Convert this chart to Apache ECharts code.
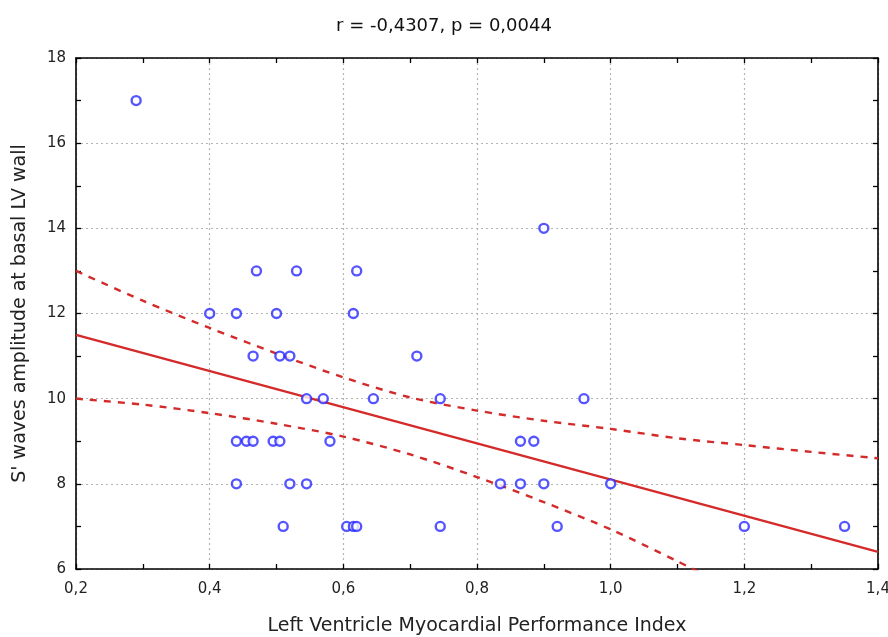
<!DOCTYPE html>
<html>
<head>
<meta charset="utf-8">
<script src="https://cdn.jsdelivr.net/npm/echarts@6/dist/echarts.min.js"></script>
<style>
html,body{margin:0;padding:0;background:#fff;}
#chart{width:888px;height:637px;}
</style>
</head>
<body>
<div id="chart"></div>
<script>
// Scatter data: Left Ventricle MPI (x) vs S' wave amplitude (y)
const mpiValues = [0.29,
  0.40,0.44,0.50,0.615,
  0.47,0.53,0.62,
  0.90,
  0.465,0.505,0.52,0.71,
  0.545,0.57,0.645,0.745,0.96,
  0.44,0.455,0.465,0.495,0.505,0.58,0.865,0.885,
  0.44,0.52,0.545,0.835,0.865,0.90,1.0,
  0.51,0.605,0.615,0.62,0.745,0.92,1.20,1.35];
const sWaveValues = [17,
  12,12,12,12,
  13,13,13,
  14,
  11,11,11,11,
  10,10,10,10,10,
  9,9,9,9,9,9,9,9,
  8,8,8,8,8,8,8,
  7,7,7,7,7,7,7,7];

// Regression line endpoints
const fitX = [0.2, 1.4];
const fitY = [11.50, 6.40];

// 95% confidence band
const bandX = [0.2,0.3,0.4,0.5,0.6,0.7,0.8,0.9,1.0,1.1,1.2,1.3,1.4];
const bandUpper = [13.0,12.30,11.66,11.06,10.50,10.03,9.72,9.48,9.29,9.07,8.91,8.75,8.60];
const bandLowerX = [0.2,0.3,0.4,0.5,0.6,0.7,0.8,0.9,1.0,1.1,1.2];
const bandLower = [10.0,9.86,9.66,9.41,9.11,8.69,8.16,7.57,6.93,6.18,5.40];

const xTicks = {min:0.2, max:1.4, interval:0.2};
const yTicks = {min:6, max:18, interval:2};

const titleText = 'r = -0,4307, p = 0,0044';
const xName = 'Left Ventricle Myocardial Performance Index';
const yName = "S' waves amplitude at basal LV wall";

const FONT = 'DejaVu Sans';
const RED = '#d42a2a';
const BLUE = '#2a2aff';

function zip(a,b){return a.map((v,i)=>[v,b[i]]);}

const baseAxisLine = {show:true, lineStyle:{color:'#000', width:1.6}};
const baseTick = {show:true, inside:true, length:5, lineStyle:{color:'#000', width:1.3}};
const baseMinor = {show:true, splitNumber:2, length:5, lineStyle:{color:'#000', width:1.3}};

const chart = echarts.init(document.getElementById('chart'), null, {renderer:'canvas'});
chart.setOption({
  animation:false,
  backgroundColor:'#fff',
  title:{text:titleText, left:'center', top:12,
    textStyle:{fontFamily:FONT, fontSize:18, fontWeight:'normal', color:'#111'}},
  grid:{left:76, right:10, top:58, bottom:68, containLabel:false, outerBoundsMode:'none'},
  xAxis:[{
    type:'value', position:'bottom', min:xTicks.min, max:xTicks.max, interval:xTicks.interval,
    axisLine:baseAxisLine, axisTick:baseTick, minorTick:baseMinor,
    splitLine:{show:true, lineStyle:{color:'#b4b4b4', type:[2,3], width:1.2}},
    axisLabel:{fontFamily:FONT, fontSize:15, color:'#222', margin:13,
      formatter:v=>v.toFixed(1).replace('.',',')},
    name:xName, nameLocation:'middle', nameGap:48,
    nameTextStyle:{fontFamily:FONT, fontSize:19, color:'#222'}
  },{
    type:'value', position:'top', min:xTicks.min, max:xTicks.max, interval:xTicks.interval,
    axisLine:baseAxisLine, axisTick:baseTick, minorTick:baseMinor,
    splitLine:{show:false}, axisLabel:{show:false}
  }],
  yAxis:[{
    type:'value', position:'left', min:yTicks.min, max:yTicks.max, interval:yTicks.interval,
    axisLine:baseAxisLine, axisTick:baseTick, minorTick:baseMinor,
    splitLine:{show:true, lineStyle:{color:'#b4b4b4', type:[2,3], width:1.2}},
    axisLabel:{fontFamily:FONT, fontSize:15, color:'#222', margin:10},
    name:yName, nameLocation:'middle', nameGap:46,
    nameTextStyle:{fontFamily:FONT, fontSize:19, color:'#222'}
  },{
    type:'value', position:'right', min:yTicks.min, max:yTicks.max, interval:yTicks.interval,
    axisLine:baseAxisLine, axisTick:baseTick, minorTick:baseMinor,
    splitLine:{show:false}, axisLabel:{show:false}
  }],
  series:[
    {type:'line', data:zip(fitX,fitY), symbol:'none', z:3,
      lineStyle:{color:RED, width:2.4}},
    {type:'line', data:zip(bandX,bandUpper), symbol:'none', smooth:0.3, z:3,
      lineStyle:{color:RED, width:2.4, type:[7,7]}},
    {type:'line', data:zip(bandLowerX,bandLower), symbol:'none', smooth:0.3, z:3,
      lineStyle:{color:RED, width:2.4, type:[7,7]}},
    {type:'scatter', data:zip(mpiValues,sWaveValues), symbol:'circle', symbolSize:9, z:4,
      itemStyle:{color:'#fff', borderColor:BLUE, borderWidth:2.4}}
  ]
});
</script>
</body>
</html>
